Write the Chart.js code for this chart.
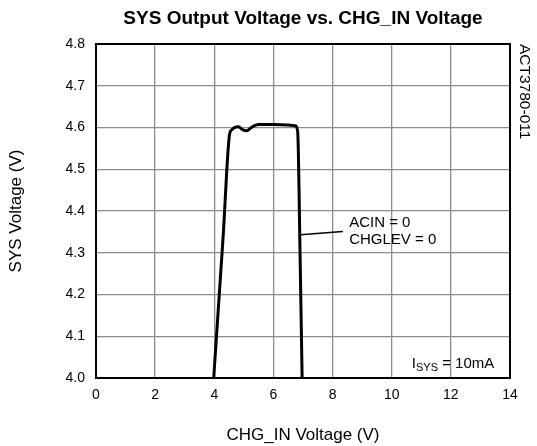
<!DOCTYPE html>
<html>
<head>
<meta charset="utf-8">
<script src="https://cdn.jsdelivr.net/npm/chart.js@4/dist/chart.umd.min.js"></script>
<style>
  html, body { margin: 0; padding: 0; background: #fff; }
  #wrap { width: 537px; height: 446px; }
</style>
</head>
<body>
<div id="wrap"><canvas id="grafico" width="537" height="446"></canvas></div>
<script>
// Datos
var chgInV = [3.98, 4.3, 4.52, 4.6, 4.68, 4.82, 4.95, 5.1, 5.25, 5.5, 6.0, 6.5, 6.75, 6.82, 6.9, 6.97];
var sysV   = [4.0, 4.34, 4.585, 4.595, 4.6, 4.602, 4.595, 4.592, 4.6, 4.607, 4.607, 4.606, 4.604, 4.59, 4.3, 4.0];

// linea guia hacia la etiqueta
var guiaX = [6.91, 8.35];
var guiaY = [4.343, 4.351];

var xTicks = [0, 2, 4, 6, 8, 10, 12, 14];
var yTicks = [4.0, 4.1, 4.2, 4.3, 4.4, 4.5, 4.6, 4.7, 4.8];

var fuente = "'Liberation Sans', Arial, sans-serif";

function puntos(xs, ys) {
    return xs.map(function (x, i) { return { x: x, y: ys[i] }; });
}

// Dibuja marco, titulo y textos sueltos
var textosPlugin = {
    id: 'textos',
    afterDraw: function (chart) {
        var ctx = chart.ctx;
        var area = chart.chartArea;
        var sx = chart.scales.x;
        var sy = chart.scales.y;
        ctx.save();

        // marco negro
        ctx.strokeStyle = '#000';
        ctx.lineWidth = 2;
        ctx.strokeRect(area.left, area.top, area.right - area.left, area.bottom - area.top);

        ctx.fillStyle = '#000';
        // titulo
        ctx.font = 'bold 19px ' + fuente;
        ctx.textAlign = 'center';
        ctx.textBaseline = 'middle';
        ctx.fillText('SYS Output Voltage vs. CHG_IN Voltage', (area.left + area.right) / 2 , 19);

        // etiqueta de la curva
        ctx.font = '15px ' + fuente;
        ctx.textAlign = 'left';
        ctx.fillText('ACIN = 0', sx.getPixelForValue(8.56), sy.getPixelForValue(4.371));
        ctx.fillText('CHGLEV = 0', sx.getPixelForValue(8.56), sy.getPixelForValue(4.331));

        // I_SYS = 10mA
        var x0 = sx.getPixelForValue(10.68);
        var y0 = sy.getPixelForValue(4.033);
        ctx.fillText('I', x0, y0);
        var w = ctx.measureText('I').width;
        ctx.font = '11px ' + fuente;
        ctx.fillText('SYS', x0 + w, y0 + 4);
        var w2 = ctx.measureText('SYS').width;
        ctx.font = '15px ' + fuente;
        ctx.fillText(' = 10mA', x0 + w + w2, y0);

        // codigo lateral girado
        ctx.translate(area.right + 14, area.top);
        ctx.rotate(Math.PI / 2);
        ctx.font = '15.5px ' + fuente;
        ctx.textAlign = 'left';
        ctx.fillText('ACT3780-011', 0, 0);

        ctx.restore();
    }
};

var ctx = document.getElementById('grafico').getContext('2d');
var grafico = new Chart(ctx, {
    type: 'scatter',
    data: {
        datasets: [{
            data: puntos(chgInV, sysV),
            showLine: true,
            borderColor: '#000',
            borderWidth: 3,
            pointRadius: 0,
            cubicInterpolationMode: 'monotone',
            fill: false
        }, {
            data: puntos(guiaX, guiaY),
            showLine: true,
            borderColor: '#000',
            borderWidth: 1.5,
            pointRadius: 0,
            fill: false
        }]
    },
    options: {
        responsive: false,
        animation: false,
        layout: { padding: { left: 0, right: 27, top: 44, bottom: 0 } },
        plugins: {
            legend: { display: false },
            tooltip: { enabled: false },
            title: { display: false }
        },
        scales: {
            x: {
                type: 'linear',
                min: 0,
                max: 14,
                afterFit: function (scale) { scale.height = 68; },
                afterBuildTicks: function (scale) {
                    scale.ticks = xTicks.map(function (v) { return { value: v }; });
                },
                grid: { color: '#8c8c8c', lineWidth: 1.3, drawTicks: false },
                border: { color: '#000', width: 2 },
                ticks: {
                    color: '#000',
                    padding: 9,
                    font: { family: fuente, size: 14 }
                },
                title: {
                    display: true,
                    text: 'CHG_IN Voltage (V)',
                    color: '#000',
                    padding: { top: 0, bottom: 0 },
                    font: { family: fuente, size: 17 }
                }
            },
            y: {
                type: 'linear',
                min: 4.0,
                max: 4.8,
                afterFit: function (scale) { scale.width = 96; },
                afterBuildTicks: function (scale) {
                    scale.ticks = yTicks.map(function (v) { return { value: v }; });
                },
                grid: { color: '#8c8c8c', lineWidth: 1.3, drawTicks: false },
                border: { color: '#000', width: 2 },
                ticks: {
                    color: '#000',
                    padding: 11,
                    font: { family: fuente, size: 14 },
                    callback: function (v) { return v.toFixed(1); }
                },
                title: {
                    display: true,
                    text: 'SYS Voltage (V)',
                    color: '#000',
                    padding: { top: 6, bottom: 0 },
                    font: { family: fuente, size: 17 }
                }
            }
        }
    },
    plugins: [textosPlugin]
});
</script>
</body>
</html>
